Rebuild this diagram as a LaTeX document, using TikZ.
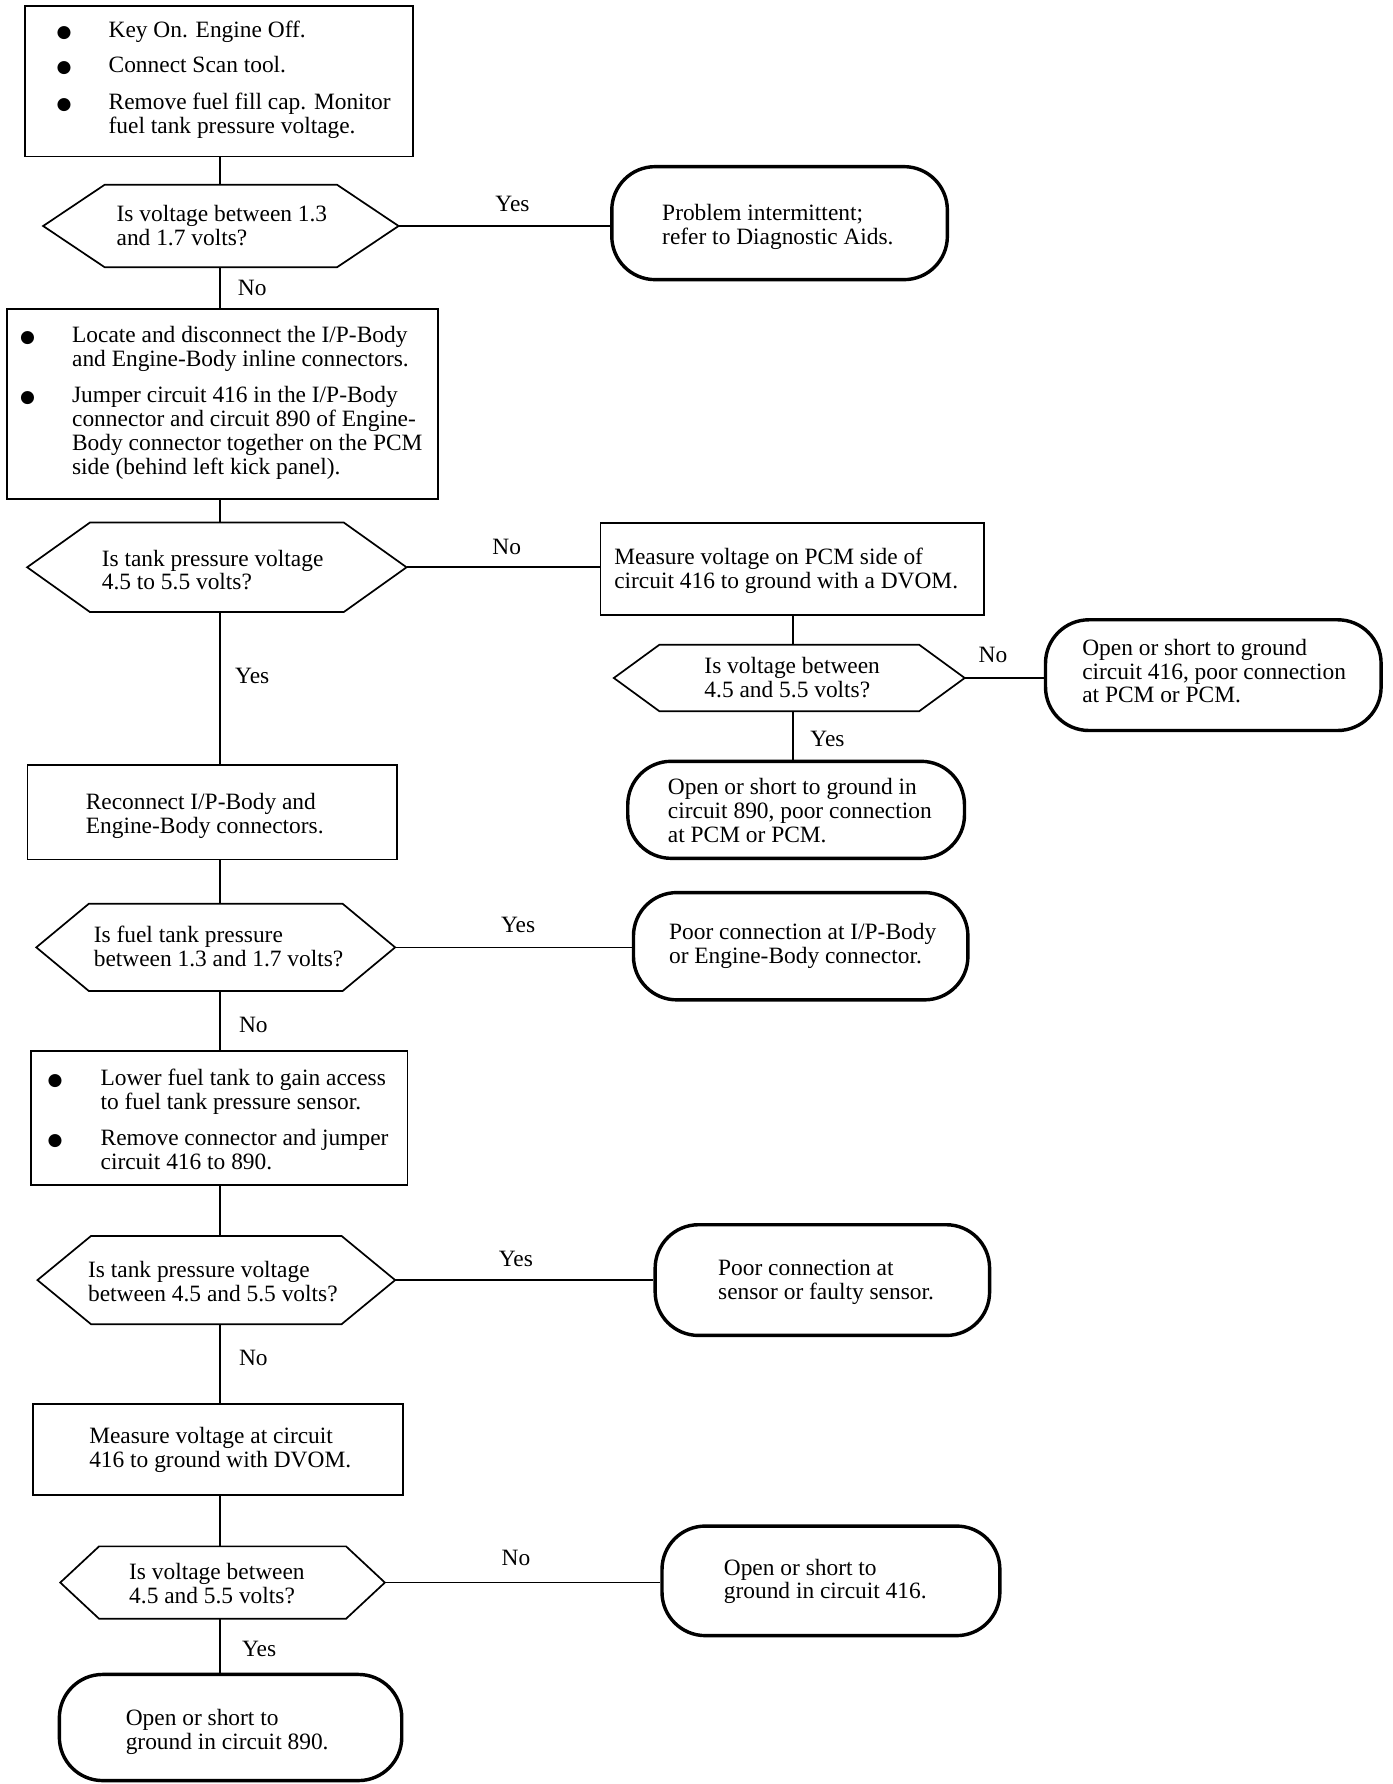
\documentclass[tikz,border=0pt]{standalone}
\usepackage{fontspec}
\setmainfont{Liberation Serif}
\newfontfamily\dejavu{DejaVu Sans}
\usetikzlibrary{fit}
\newcommand\hexdraw[2]{\draw[hexline] (#1.west) -- ([xshift=#2]#1.north west) -- ([xshift=-#2]#1.north east) -- (#1.east) -- ([xshift=-#2]#1.south east) -- ([xshift=#2]#1.south west) -- cycle;}
\newcommand\bul[1]{\makebox[#1pt][l]{\makebox[0pt]{\smash{\raisebox{0pt}{\dejavu\fontsize{15}{0}\selectfont ●}}}}}
\tikzset{
  every node/.style={font=\fontsize{20.5}{21}\selectfont},
  boxn/.style={draw, line width=1.5pt, inner sep=0pt},
  hexn/.style={draw=none, inner sep=0pt},
  hexline/.style={line width=1.5pt, line join=miter},
  endn/.style={draw, line width=3pt, rounded corners=38pt, inner sep=0pt},
  txt/.style={anchor=north west, inner sep=0pt},
  lab/.style={inner sep=0pt},
  conn/.style={line width=1.5pt}
}
\newcommand\txt[4]{\node[txt] (#1) at (#2,#3-9) {\begin{tabular}{@{}l@{}}#4\end{tabular}};}
\begin{document}
\begin{tikzpicture}[x=1pt,y=-1pt]
\fill[white] (0,0) rectangle (1219.6,1563);
\useasboundingbox (0,0) rectangle (1219.6,1563);
\coordinate (spine) at (193,0);
\coordinate (col2) at (695,0);
% shapes
\node[boxn, fit={(22,5)(362,137)}] (b1) {};
\node[hexn, fit={(38,162)(349,234)}] (h1) {};
\node[endn, fit={(536,146)(830,245)}] (e1) {};
\node[boxn, fit={(6,271)(384,437)}] (b2) {};
\node[hexn, fit={(24,458)(356,536)}] (h2) {};
\node[boxn, fit={(526,458)(862,539)}] (b3) {};
\node[hexn, fit={(538,565)(845,623)}] (h3) {};
\node[endn, fit={(916,543)(1210,640)}] (e2) {};
\node[endn, fit={(550,667)(845,752)}] (e3) {};
\node[boxn, fit={(24,670)(348,753)}] (b4) {};
\node[hexn, fit={(32,792)(346,868)}] (h4) {};
\node[endn, fit={(555,782)(848,876)}] (e4) {};
\node[boxn, fit={(27,921)(357,1038)}] (b5) {};
\node[hexn, fit={(33,1083)(346,1160)}] (h5) {};
\node[endn, fit={(574,1073)(867,1170)}] (e5) {};
\node[boxn, fit={(29,1230)(353,1310)}] (b6) {};
\node[hexn, fit={(53,1355)(337,1418)}] (h6) {};
\node[endn, fit={(580,1337)(876,1433)}] (e6) {};
\node[endn, fit={(52,1467)(352,1560)}] (e7) {};
\hexdraw{h1}{54}
\hexdraw{h2}{55}
\hexdraw{h3}{40}
\hexdraw{h4}{46}
\hexdraw{h5}{47}
\hexdraw{h6}{34}
% texts
\node[txt] (t1) at (56,27-9) {\begin{tabular}{@{}l@{}l@{}}
\bul{39} & Key On. Engine Off.\\[10pt]
\bul{39} & Connect Scan tool.\\[11pt]
\bul{39} & Remove fuel fill cap. Monitor\\
 & fuel tank pressure voltage.
\end{tabular}};
\txt{th1}{102}{188}{Is voltage between 1.3\\and 1.7 volts?}
\txt{te1}{580}{187}{Problem intermittent;\\refer to Diagnostic Aids.}
\node[txt] (t2) at (24,294-9) {\begin{tabular}{@{}l@{}l@{}}
\bul{39} & Locate and disconnect the I/P-Body\\
 & and Engine-Body inline connectors.\\[11pt]
\bul{39} & Jumper circuit 416 in the I/P-Body\\
 & connector and circuit 890 of Engine-\\
 & Body connector together on the PCM\\
 & side (behind left kick panel).
\end{tabular}};
\txt{th2}{89}{490}{Is tank pressure voltage\\4.5 to 5.5 volts?}
\txt{tb3}{538}{489}{Measure voltage on PCM side of\\circuit 416 to ground with a DVOM.}
\txt{th3}{617}{584}{Is voltage between\\4.5 and 5.5 volts?}
\txt{te2}{948}{568}{Open or short to ground\\circuit 416, poor connection\\at PCM or PCM.}
\txt{te3}{585}{690}{Open or short to ground in\\circuit 890, poor connection\\at PCM or PCM.}
\txt{tb4}{75}{703}{Reconnect I/P-Body and\\Engine-Body connectors.}
\txt{th4}{82}{820}{Is fuel tank pressure\\between 1.3 and 1.7 volts?}
\txt{te4}{586}{817}{Poor connection at I/P-Body\\or Engine-Body connector.}
\node[txt] (t5) at (48,945-9) {\begin{tabular}{@{}l@{}l@{}}
\bul{40} & Lower fuel tank to gain access\\
 & to fuel tank pressure sensor.\\[11pt]
\bul{40} & Remove connector and jumper\\
 & circuit 416 to 890.
\end{tabular}};
\txt{th5}{77}{1113}{Is tank pressure voltage\\between 4.5 and 5.5 volts?}
\txt{te5}{629}{1112}{Poor connection at\\sensor or faulty sensor.}
\txt{tb6}{78}{1259}{Measure voltage at circuit\\416 to ground with DVOM.}
\txt{th6}{113}{1378}{Is voltage between\\4.5 and 5.5 volts?}
\txt{te6}{634}{1374}{Open or short to\\ground in circuit 416.}
\txt{te7}{110}{1506}{Open or short to\\ground in circuit 890.}
% labels
\node[lab] (l1) at (449,179) {Yes};
\node[lab] (l2) at (221,252) {No};
\node[lab] (l3) at (444,479) {No};
\node[lab] (l4) at (870,574) {No};
\node[lab] (l5) at (725,647) {Yes};
\node[lab] (l6) at (221,592) {Yes};
\node[lab] (l7) at (454,810) {Yes};
\node[lab] (l8) at (222,898) {No};
\node[lab] (l9) at (452,1103) {Yes};
\node[lab] (l10) at (222,1190) {No};
\node[lab] (l11) at (452,1365) {No};
\node[lab] (l12) at (227,1445) {Yes};
% connectors
\draw[conn] (b1.south -| spine) -- (h1.north -| spine);
\draw[conn] (h1.east) -- (h1.east -| e1.west);
\draw[conn] (h1.south -| spine) -- (b2.north -| spine);
\draw[conn] (b2.south -| spine) -- (h2.north -| spine);
\draw[conn] (h2.east) -- (h2.east -| b3.west);
\draw[conn] (b3.south -| col2) -- (h3.north -| col2);
\draw[conn] (h3.east) -- (h3.east -| e2.west);
\draw[conn] (h3.south -| col2) -- (e3.north -| col2);
\draw[conn] (h2.south -| spine) -- (b4.north -| spine);
\draw[conn] (b4.south -| spine) -- (h4.north -| spine);
\draw[conn] (h4.east) -- (h4.east -| e4.west);
\draw[conn] (h4.south -| spine) -- (b5.north -| spine);
\draw[conn] (b5.south -| spine) -- (h5.north -| spine);
\draw[conn] (h5.east) -- (h5.east -| e5.west);
\draw[conn] (h5.south -| spine) -- (b6.north -| spine);
\draw[conn] (b6.south -| spine) -- (h6.north -| spine);
\draw[conn] (h6.east) -- (h6.east -| e6.west);
\draw[conn] (h6.south -| spine) -- (e7.north -| spine);
\end{tikzpicture}
\end{document}
